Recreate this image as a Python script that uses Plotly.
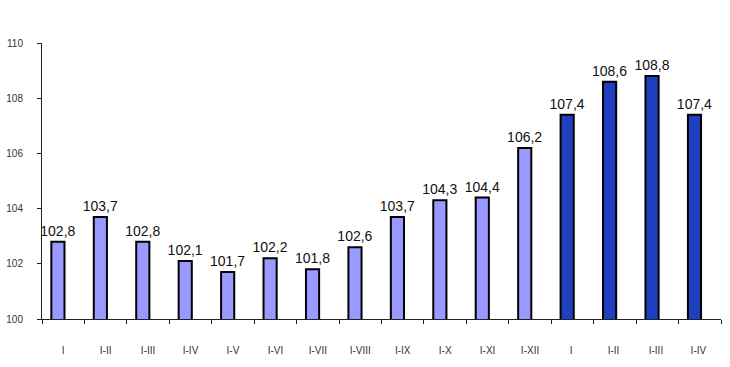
import plotly.graph_objects as go

categories = ["I", "I-II", "I-III", "I-IV", "I-V", "I-VI", "I-VII", "I-VIII",
              "I-IX", "I-X", "I-XI", "I-XII", "I ", "I-II ", "I-III ", "I-IV "]
values = [102.8, 103.7, 102.8, 102.1, 101.7, 102.2, 101.8, 102.6,
          103.7, 104.3, 104.4, 106.2, 107.4, 108.6, 108.8, 107.4]
light = "#9999FF"
dark = "#1F3FBF"
colors = [light] * 12 + [dark] * 4
labels = [f"{v:.1f}".replace(".", ",") for v in values]
ytickvals = [100, 102, 104, 106, 108, 110]

fig = go.Figure(go.Bar(
    x=categories, y=values,
    marker=dict(color=colors, line=dict(color="black", width=2)),
    width=0.31, offset=-0.28,
    text=labels, textposition="outside", cliponaxis=False,
    constraintext="none",
    textfont=dict(family="Liberation Sans, Arial", size=14, color="#111"),
))

fig.update_layout(
    width=730, height=367,
    margin=dict(l=42, r=9, t=43, b=48),
    paper_bgcolor="white", plot_bgcolor="white",
    showlegend=False,
    font=dict(family="Liberation Sans, Arial"),
)
fig.update_xaxes(
    type="category", categoryorder="array", categoryarray=categories,
    tickson="boundaries", automargin=False,
    showline=True, linecolor="#222", linewidth=1,
    ticks="outside", ticklen=4, tickcolor="#222",
    tickfont=dict(size=10, color="#333"),
    ticklabelstandoff=22, showgrid=False, zeroline=False,
)
fig.update_yaxes(
    range=[100, 110], tickvals=ytickvals, automargin=False,
    showline=True, linecolor="#222", linewidth=1,
    ticks="outside", ticklen=4, tickcolor="#222",
    tickfont=dict(size=10, color="#333"),
    ticklabelstandoff=12, showgrid=False, zeroline=False,
)
fig.write_html("out.html", config={"displayModeBar": False},
               post_script="document.body.style.margin='0';document.body.style.overflow='hidden';")
